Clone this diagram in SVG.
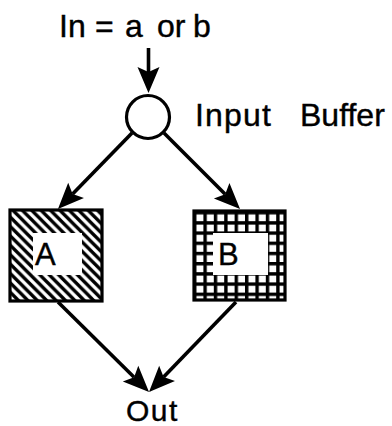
<svg xmlns="http://www.w3.org/2000/svg" width="392" height="426" viewBox="0 0 392 426">
  <style>
    .lbl { font-family: "Liberation Sans", Arial, Helvetica, sans-serif; fill: #000; stroke: #000; stroke-width: 0.4; }
    .wire { fill: none; stroke: #000; stroke-width: 3.6; stroke-linecap: butt; }
    .frame { stroke: #000; stroke-width: 3.2; }
  </style>
  <defs>
    <!-- notched arrowhead, ref point sits at the notch so the shaft stays hidden -->
    <marker id="head" viewBox="-28 -13 30 26" markerWidth="30" markerHeight="26"
            refX="-21" refY="0" orient="auto" markerUnits="userSpaceOnUse">
      <path d="M0,0 L-26,-11 L-21,0 L-26,11 Z" fill="#000"/>
    </marker>
    <!-- diagonal hatching for block A -->
    <pattern id="hatch" patternUnits="userSpaceOnUse" width="9.4" height="9.4">
      <rect width="9.4" height="9.4" fill="#fff"/>
      <path d="M0,0 L9.4,9.4 M-2,7.4 L2,11.4 M7.4,-2 L11.4,2" stroke="#000" stroke-width="3.4"/>
    </pattern>
    <!-- square grid for block B -->
    <pattern id="grid" patternUnits="userSpaceOnUse" x="193" y="211" width="10.4" height="10.2">
      <rect width="10.4" height="10.2" fill="#fff"/>
      <rect x="0" y="0" width="3.4" height="10.2" fill="#000"/>
      <rect x="0" y="0" width="10.4" height="3.4" fill="#000"/>
    </pattern>
  </defs>

  <g id="source">
    <text class="lbl" font-size="32" y="37"><tspan x="59">In</tspan><tspan x="95">=</tspan><tspan x="125">a</tspan><tspan x="157">or</tspan><tspan x="193">b</tspan></text>
  </g>

  <g id="input-buffer">
    <circle cx="148" cy="117" r="21.5" fill="#fff" stroke="#000" stroke-width="3.2"/>
    <text class="lbl" font-size="32" y="126"><tspan x="195" letter-spacing="1.2">Input</tspan><tspan x="300">Buffer</tspan></text>
  </g>

  <g id="block-a">
    <rect class="frame" x="10" y="210" width="92" height="91" fill="url(#hatch)"/>
    <rect x="33" y="233" width="49" height="42" fill="#fff"/>
    <text class="lbl" font-size="31" x="35" y="265">A</text>
  </g>

  <g id="block-b">
    <rect class="frame" x="194" y="211" width="91" height="89" fill="url(#grid)"/>
    <rect x="213" y="233" width="55" height="42" fill="#fff"/>
    <text class="lbl" font-size="31" x="218" y="265">B</text>
  </g>

  <g id="output">
    <text class="lbl" font-size="30" x="126" y="421" letter-spacing="1.5">Out</text>
  </g>

  <g id="connectors">
    <path class="wire" d="M148.5,48 L148.5,72" stroke-width="3.2" marker-end="url(#head)"/>
    <path class="wire" d="M132,133 L72.6,194" marker-end="url(#head)"/>
    <path class="wire" d="M164,133 L225.2,194.2" marker-end="url(#head)"/>
    <path class="wire" d="M58,302 L134.1,377.2" marker-end="url(#head)"/>
    <path class="wire" d="M236,302 L163.6,376.9" marker-end="url(#head)"/>
  </g>
</svg>
